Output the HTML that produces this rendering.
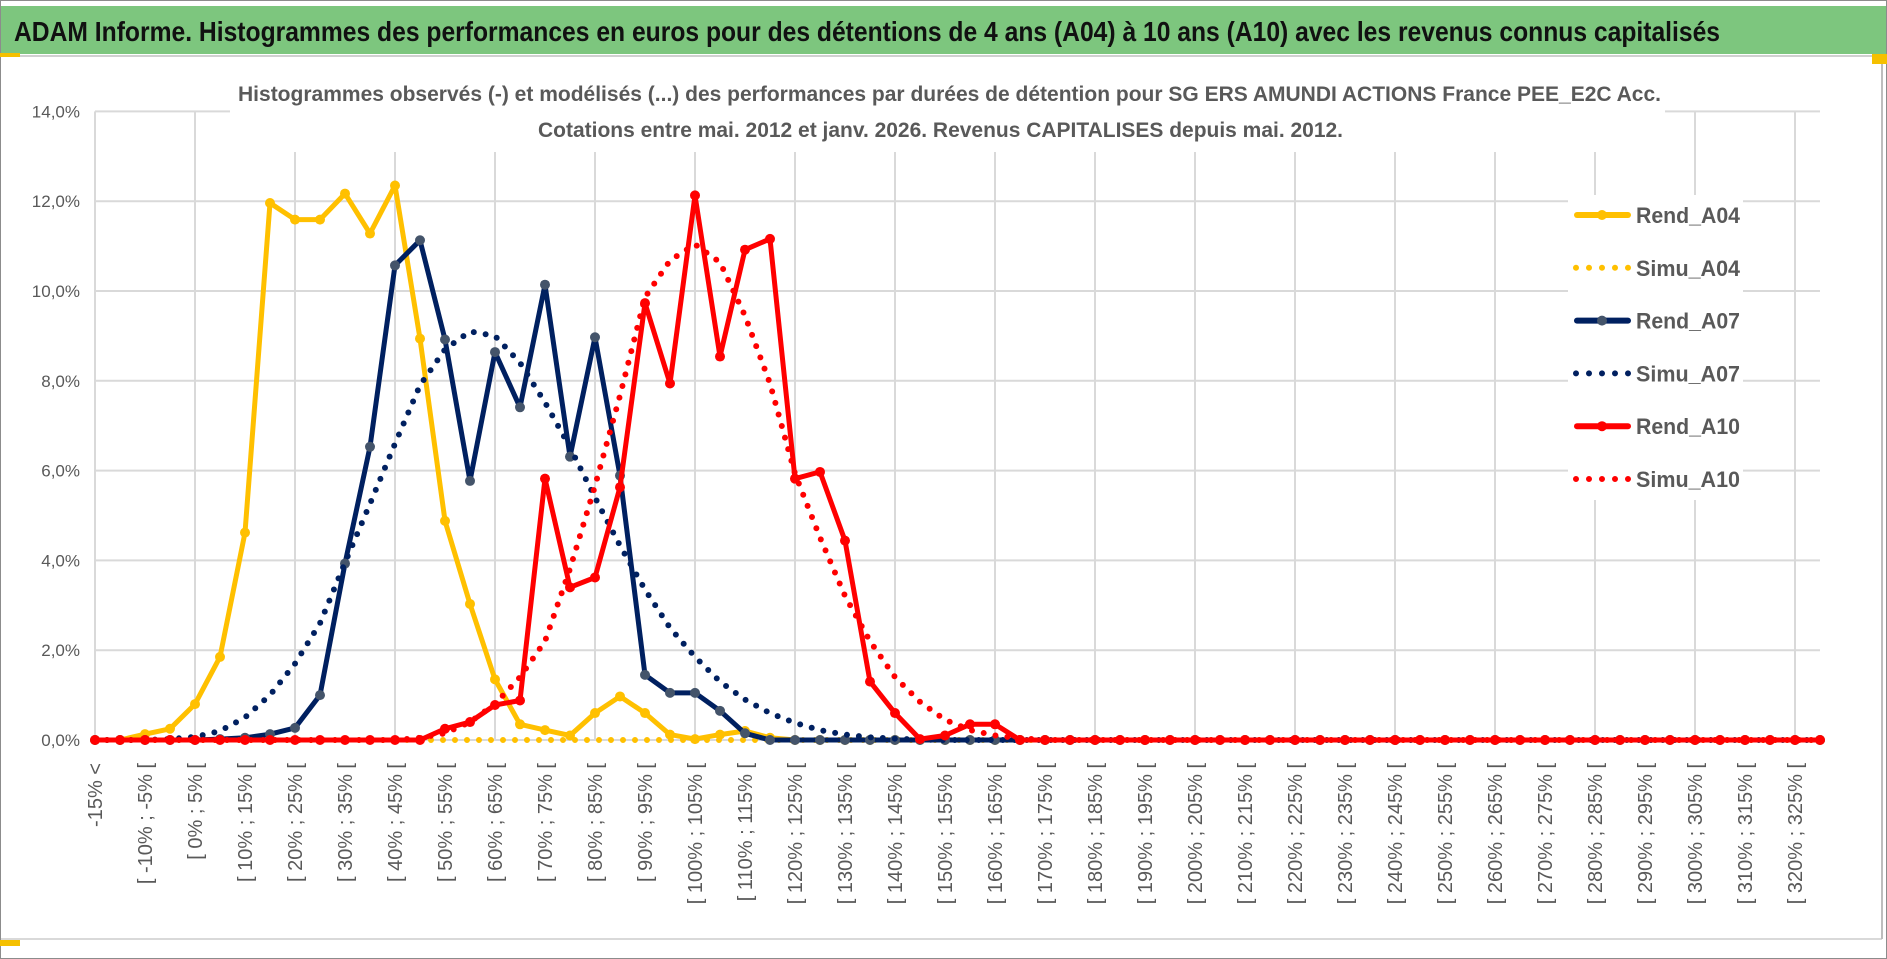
<!DOCTYPE html>
<html><head><meta charset="utf-8">
<style>
html,body{margin:0;padding:0;background:#fff;}
svg{display:block;font-family:"Liberation Sans",sans-serif;}
</style></head>
<body>
<svg id="chart" width="1887" height="959" viewBox="0 0 1887 959" xmlns="http://www.w3.org/2000/svg">
  <rect x="0" y="0" width="1887" height="959" fill="#fff"/>
  <rect x="0.5" y="0.5" width="1886" height="958" fill="none" stroke="#8c8c8c" stroke-width="1"/>
  <rect x="1" y="6" width="1885" height="48" fill="#7dc67e"/>
  <line x1="0" y1="56" x2="1887" y2="56" stroke="#d0d0d0" stroke-width="2"/>
  <rect x="0" y="53" width="20" height="4" fill="#f5c000"/>
  <rect x="1872" y="54" width="15" height="10" fill="#f5c000"/>
  <text x="14" y="41" font-size="28" font-weight="bold" fill="#111" textLength="1706" lengthAdjust="spacingAndGlyphs">ADAM Informe. Histogrammes des performances en euros pour des détentions de 4 ans (A04) à 10 ans (A10) avec les revenus connus capitalisés</text>
  <line x1="1" y1="939" x2="1882" y2="939" stroke="#d9d9d9" stroke-width="2"/>
  <line x1="1882" y1="64" x2="1882" y2="939" stroke="#bdbdbd" stroke-width="2"/>
  <rect x="0" y="940" width="20" height="6" fill="#f5c000"/>
  <g id="grid"></g>
  <g id="ylabels"></g>
  <rect x="230" y="72" width="1435" height="80" fill="#fff"/>
  <text x="238" y="101" font-size="21" font-weight="bold" fill="#595959" textLength="1423" lengthAdjust="spacingAndGlyphs">Histogrammes observés (-) et modélisés (...) des performances par durées de détention pour SG ERS AMUNDI ACTIONS France PEE_E2C Acc.</text>
  <text x="538" y="137" font-size="21" font-weight="bold" fill="#595959" textLength="805" lengthAdjust="spacingAndGlyphs">Cotations entre mai. 2012 et janv. 2026. Revenus CAPITALISES depuis mai. 2012.</text>
  <g id="xlabels"></g>
  <g id="series"></g>
  <g id="legend"></g>
</svg>
<script>
const categories = ["-15% <","[ -15% ; -10% [","[ -10% ; -5% [","[ -5% ; 0% [","[ 0% ; 5% [","[ 5% ; 10% [","[ 10% ; 15% [","[ 15% ; 20% [","[ 20% ; 25% [","[ 25% ; 30% [","[ 30% ; 35% [","[ 35% ; 40% [","[ 40% ; 45% [","[ 45% ; 50% [","[ 50% ; 55% [","[ 55% ; 60% [","[ 60% ; 65% [","[ 65% ; 70% [","[ 70% ; 75% [","[ 75% ; 80% [","[ 80% ; 85% [","[ 85% ; 90% [","[ 90% ; 95% [","[ 95% ; 100% [","[ 100% ; 105% [","[ 105% ; 110% [","[ 110% ; 115% [","[ 115% ; 120% [","[ 120% ; 125% [","[ 125% ; 130% [","[ 130% ; 135% [","[ 135% ; 140% [","[ 140% ; 145% [","[ 145% ; 150% [","[ 150% ; 155% [","[ 155% ; 160% [","[ 160% ; 165% [","[ 165% ; 170% [","[ 170% ; 175% [","[ 175% ; 180% [","[ 180% ; 185% [","[ 185% ; 190% [","[ 190% ; 195% [","[ 195% ; 200% [","[ 200% ; 205% [","[ 205% ; 210% [","[ 210% ; 215% [","[ 215% ; 220% [","[ 220% ; 225% [","[ 225% ; 230% [","[ 230% ; 235% [","[ 235% ; 240% [","[ 240% ; 245% [","[ 245% ; 250% [","[ 250% ; 255% [","[ 255% ; 260% [","[ 260% ; 265% [","[ 265% ; 270% [","[ 270% ; 275% [","[ 275% ; 280% [","[ 280% ; 285% [","[ 285% ; 290% [","[ 290% ; 295% [","[ 295% ; 300% [","[ 300% ; 305% [","[ 305% ; 310% [","[ 310% ; 315% [","[ 315% ; 320% [","[ 320% ; 325% [","[ 325% ; 330% ["];
const rendA04 = [0,0,0.13,0.25,0.8,1.85,4.62,11.96,11.59,11.59,12.17,11.28,12.35,8.94,4.88,3.03,1.35,0.35,0.22,0.1,0.6,0.97,0.6,0.12,0.02,0.12,0.2,0.05,0,0,0,0,0,0,0,0,0,0,0,0,0,0,0,0,0,0,0,0,0,0,0,0,0,0,0,0,0,0,0,0,0,0,0,0,0,0,0,0,0,0];
const simuA04 = [0,0,0,0,0,0,0,0,0,0,0,0,0,0,0,0,0,0,0,0,0,0,0,0,0,0,0,0,0,0,0,0,0,0,0,0,0,0,0,0,0,0,0,0,0,0,0,0,0,0,0,0,0,0,0,0,0,0,0,0,0,0,0,0,0,0,0,0,0,0];
const rendA07 = [0,0,0,0,0,0.02,0.05,0.13,0.27,1.0,3.93,6.53,10.57,11.13,8.92,5.77,8.64,7.41,10.14,6.31,8.97,5.89,1.45,1.05,1.05,0.65,0.15,0,0,0,0,0,0,0,0,0,0,0,0,0,0,0,0,0,0,0,0,0,0,0,0,0,0,0,0,0,0,0,0,0,0,0,0,0,0,0,0,0,0,0];
const simuA07 = [0,0,0,0.02,0.07,0.2,0.5,1.0,1.7,2.6,3.95,5.26,6.6,7.9,8.7,9.1,9.0,8.4,7.52,6.52,5.4,4.33,3.35,2.5,1.85,1.3,0.9,0.6,0.38,0.22,0.12,0.06,0.03,0.01,0,0,0,0,0,0,0,0,0,0,0,0,0,0,0,0,0,0,0,0,0,0,0,0,0,0,0,0,0,0,0,0,0,0,0,0];
const rendA10 = [0,0,0,0,0,0,0,0,0,0,0,0,0,0,0.25,0.4,0.78,0.88,5.82,3.4,3.62,5.63,9.73,7.94,12.13,8.54,10.92,11.16,5.82,5.97,4.44,1.3,0.6,0.02,0.1,0.35,0.35,0,0,0,0,0,0,0,0,0,0,0,0,0,0,0,0,0,0,0,0,0,0,0,0,0,0,0,0,0,0,0,0,0];
const simuA10 = [0,0,0,0,0,0,0,0,0,0,0,0,0,0.05,0.15,0.4,0.8,1.4,2.2,3.81,5.66,7.67,9.86,10.68,11.04,10.64,9.45,7.94,5.93,4.51,3.21,2.2,1.4,0.85,0.45,0.22,0.1,0.04,0,0,0,0,0,0,0,0,0,0,0,0,0,0,0,0,0,0,0,0,0,0,0,0,0,0,0,0,0,0,0,0];
const yTicks = [0,2,4,6,8,10,12,14];
const yTickLabels = ["0,0%","2,0%","4,0%","6,0%","8,0%","10,0%","12,0%","14,0%"];

const NS = "http://www.w3.org/2000/svg";
const X0 = 95, DX = 25, Y0 = 740, YMAX = 14, YTOP = 111.4;
function xs(i){ return X0 + i*DX; }
function ys(v){ return Y0 - (v/YMAX)*(Y0-YTOP); }
function mk(tag, attrs, parent){ const e=document.createElementNS(NS,tag); for(const k in attrs) e.setAttribute(k,attrs[k]); parent.appendChild(e); return e; }
const xEnd = xs(categories.length-1);

const grid = document.getElementById('grid');
yTicks.forEach(function(t){
  const l = mk('line',{x1:X0,x2:xEnd,y1:ys(t),y2:ys(t),stroke:'#d9d9d9','stroke-width':2},grid);
  
  
});
for(let i=0;i<categories.length;i+=4){
  const l = mk('line',{x1:xs(i),x2:xs(i),y1:ys(YMAX),y2:Y0,stroke:'#d9d9d9','stroke-width':2},grid);
  
  
}
const yl = document.getElementById('ylabels');
yTicks.forEach(function(t,k){
  const tx = mk('text',{x:80,y:ys(t)+6,'text-anchor':'end','font-size':17,fill:'#595959'},yl);
  tx.textContent = yTickLabels[k];
  
  
});
const xl = document.getElementById('xlabels');
categories.forEach(function(c,i){
  if(i%2) return;
  const x = xs(i)+7, y = 763;
  const tx = mk('text',{x:x,y:y,'text-anchor':'end','font-size':20,fill:'#595959',transform:'rotate(-90 '+x+' '+y+')'},xl);
  tx.textContent = c;
  
  
});

const sg = document.getElementById('series');
function pts(arr){ return arr.map(function(v,i){ return xs(i).toFixed(1)+','+ys(v).toFixed(1); }).join(' '); }
function solid(arr,color,mcolor,name){
  const g = mk('g',{},sg);
  
  
  const pl = mk('polyline',{points:pts(arr),fill:'none',stroke:color,'stroke-width':5,'stroke-linejoin':'round','stroke-linecap':'round'},g);
  
  
  arr.forEach(function(v,i){
    const c = mk('circle',{cx:xs(i),cy:ys(v),r:5,fill:mcolor},g);
    
    
  });
}
function dotted(arr,color,name){
  const pl = mk('polyline',{points:pts(arr),fill:'none',stroke:color,'stroke-width':6,'stroke-dasharray':'0 12','stroke-linecap':'round','stroke-linejoin':'round'},sg);
  
  
}
solid(rendA04,'#ffc000','#ffc000','rend-a04');
dotted(simuA04,'#ffc000','simu-a04');
solid(rendA07,'#002060','#44546a','rend-a07');
dotted(simuA07,'#002060','simu-a07');
solid(rendA10,'#ff0000','#ff0000','rend-a10');
dotted(simuA10,'#ff0000','simu-a10');

const lg = document.getElementById('legend');
const bg = mk('rect',{x:1568,y:195,width:175,height:305,fill:'#fff'},lg);


const legendNames = ["Rend_A04","Simu_A04","Rend_A07","Simu_A07","Rend_A10","Simu_A10"];
const legendColors = ['#ffc000','#ffc000','#002060','#002060','#ff0000','#ff0000'];
const legendMarkers = ['#ffc000',null,'#44546a',null,'#ff0000',null];
legendNames.forEach(function(n,k){
  const y = 215 + k*52.8;
  const g = mk('g',{},lg);
  
  
  if(legendMarkers[k]){
    mk('line',{x1:1577,x2:1628,y1:y,y2:y,stroke:legendColors[k],'stroke-width':6,'stroke-linecap':'round'},g);
    mk('circle',{cx:1602,cy:y,r:5,fill:legendMarkers[k]},g);
  } else {
    mk('line',{x1:1576,x2:1630,y1:y,y2:y,stroke:legendColors[k],'stroke-width':6,'stroke-dasharray':'0 13','stroke-linecap':'round'},g);
  }
  const t = mk('text',{x:1636,y:y+8,'font-size':22,'font-weight':'bold',fill:'#595959',textLength:104,lengthAdjust:'spacingAndGlyphs'},g);
  t.textContent = n;
});
</script>
</body></html>
